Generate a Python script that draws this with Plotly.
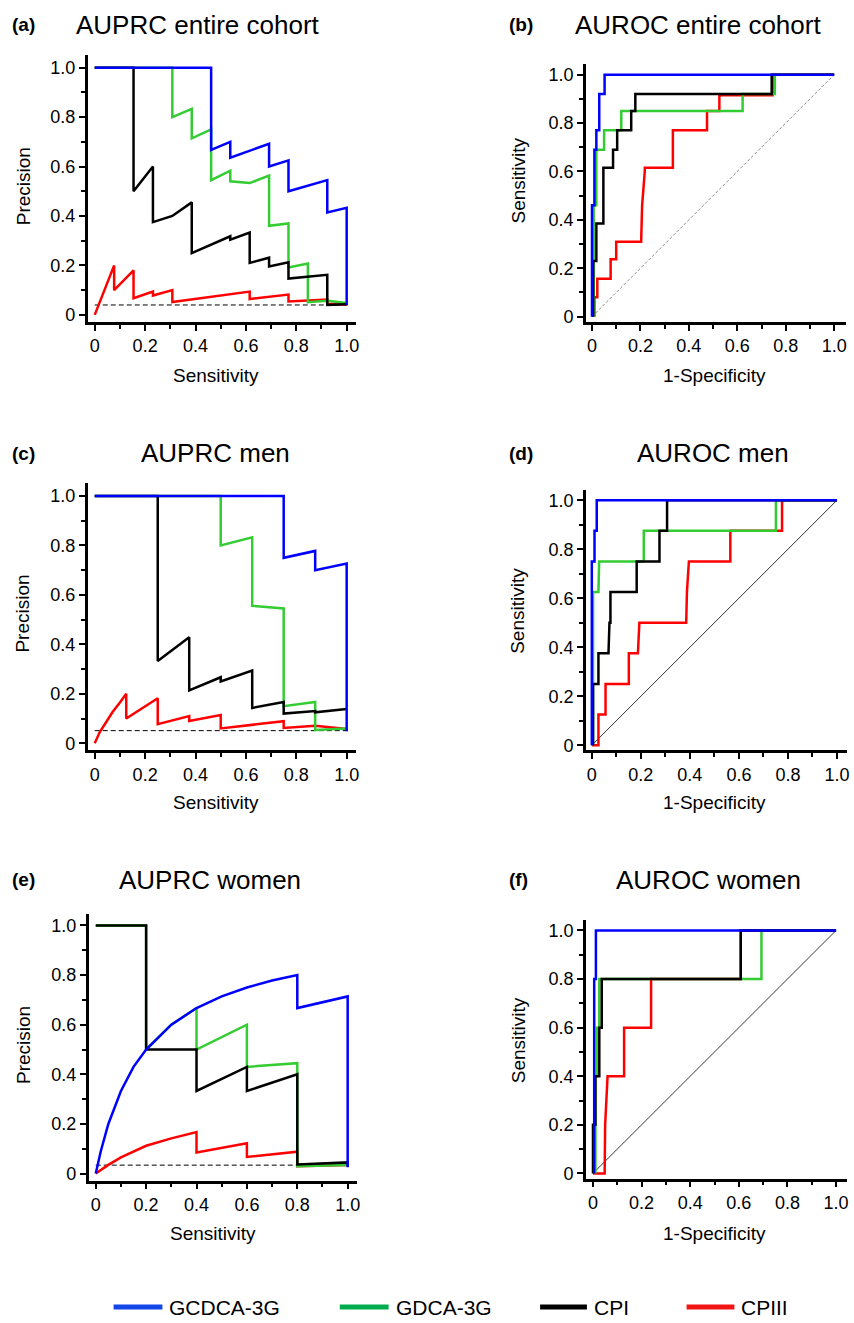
import plotly.graph_objects as go

W, H = 854, 1323
FONT = "Arial, 'Liberation Sans', sans-serif"

# ------------------------------------------------------------------ data
series_names = ["GCDCA-3G", "GDCA-3G", "CPI", "CPIII"]
line_colors = ["#0000FF", "#33CC33", "#000000", "#FF0000"]
legend_colors = ["#1246E8", "#00AD4E", "#000000", "#F01414"]
tick_values = [0, 0.2, 0.4, 0.6, 0.8, 1.0]
tick_labels = ["0", "0.2", "0.4", "0.6", "0.8", "1.0"]
minor_values = [0.1, 0.3, 0.5, 0.7, 0.9]

panel_letters = ["(a)", "(b)", "(c)", "(d)", "(e)", "(f)"]
panel_titles = ["AUPRC entire cohort", "AUROC entire cohort", "AUPRC men",
                "AUROC men", "AUPRC women", "AUROC women"]

# (a) precision-recall, entire cohort
prc_all_gcdca_x = [0, 0.462, 0.462, 0.538, 0.538, 0.692, 0.692, 0.769, 0.769, 0.923, 0.923, 1.0, 1.0]
prc_all_gcdca_y = [1.0, 1.0, 0.667, 0.70, 0.636, 0.692, 0.60, 0.625, 0.50, 0.545, 0.414, 0.433, 0.04]
prc_all_gdca_x = [0, 0.308, 0.308, 0.385, 0.385, 0.462, 0.462, 0.538, 0.538, 0.615, 0.692, 0.692, 0.769, 0.769, 0.846, 0.846, 0.923, 1.0]
prc_all_gdca_y = [1.0, 1.0, 0.80, 0.833, 0.714, 0.75, 0.545, 0.583, 0.54, 0.533, 0.563, 0.36, 0.37, 0.192, 0.208, 0.051, 0.057, 0.048]
prc_all_cpi_x = [0, 0.154, 0.154, 0.231, 0.231, 0.308, 0.385, 0.385, 0.538, 0.538, 0.615, 0.615, 0.692, 0.692, 0.769, 0.769, 0.923, 0.923, 1.0]
prc_all_cpi_y = [1.0, 1.0, 0.50, 0.60, 0.375, 0.40, 0.455, 0.25, 0.318, 0.304, 0.333, 0.21, 0.231, 0.196, 0.213, 0.147, 0.162, 0.04, 0.043]
prc_all_cpiii_x = [0, 0.077, 0.077, 0.154, 0.154, 0.231, 0.231, 0.308, 0.308, 0.615, 0.615, 0.769, 0.769, 0.923, 0.923, 1.0]
prc_all_cpiii_y = [0, 0.20, 0.10, 0.18, 0.067, 0.094, 0.078, 0.10, 0.052, 0.094, 0.064, 0.082, 0.054, 0.062, 0.045, 0.042]
prc_all_base_x = [0, 1.01]
prc_all_base_y = [0.04, 0.04]

# (b) ROC, entire cohort
roc_all_gcdca_x = [0, 0, 0.01, 0.01, 0.018, 0.018, 0.03, 0.03, 0.052, 0.052, 1.0]
roc_all_gcdca_y = [0, 0.46, 0.46, 0.69, 0.69, 0.77, 0.77, 0.92, 0.92, 1.0, 1.0]
roc_all_gdca_x = [0.007, 0.007, 0.018, 0.018, 0.05, 0.05, 0.121, 0.121, 0.622, 0.622, 0.755, 0.755, 1.0]
roc_all_gdca_y = [0, 0.46, 0.46, 0.69, 0.69, 0.77, 0.77, 0.85, 0.85, 0.92, 0.92, 1.0, 1.0]
roc_all_cpi_x = [0.005, 0.005, 0.018, 0.018, 0.047, 0.047, 0.087, 0.087, 0.104, 0.104, 0.162, 0.162, 0.179, 0.179, 0.742, 0.742, 1.0]
roc_all_cpi_y = [0, 0.23, 0.23, 0.385, 0.385, 0.615, 0.615, 0.69, 0.69, 0.77, 0.77, 0.85, 0.85, 0.92, 0.92, 1.0, 1.0]
roc_all_cpiii_x = [0.01, 0.01, 0.022, 0.022, 0.077, 0.077, 0.1, 0.1, 0.203, 0.207, 0.218, 0.218, 0.334, 0.334, 0.475, 0.475, 0.526, 0.526, 0.746, 0.746, 1.0]
roc_all_cpiii_y = [0, 0.08, 0.08, 0.157, 0.157, 0.237, 0.237, 0.31, 0.31, 0.46, 0.6, 0.615, 0.615, 0.77, 0.77, 0.85, 0.85, 0.915, 0.915, 1.0, 1.0]

# (c) precision-recall, men
prc_men_gcdca_x = [0, 0.75, 0.75, 0.875, 0.875, 1.0, 1.0]
prc_men_gcdca_y = [1.0, 1.0, 0.75, 0.778, 0.70, 0.727, 0.048]
prc_men_gdca_x = [0, 0.5, 0.5, 0.625, 0.625, 0.75, 0.75, 0.875, 0.875, 1.0]
prc_men_gdca_y = [1.0, 1.0, 0.80, 0.833, 0.556, 0.545, 0.15, 0.167, 0.054, 0.06]
prc_men_cpi_x = [0, 0.25, 0.25, 0.375, 0.375, 0.5, 0.5, 0.625, 0.625, 0.75, 0.75, 0.875, 0.875, 1.0]
prc_men_cpi_y = [1.0, 1.0, 0.333, 0.429, 0.214, 0.267, 0.25, 0.294, 0.143, 0.167, 0.12, 0.13, 0.125, 0.138]
prc_men_cpiii_x = [0, 0.02, 0.045, 0.07, 0.1, 0.125, 0.125, 0.25, 0.25, 0.375, 0.375, 0.5, 0.5, 0.75, 0.75, 0.875, 1.0]
prc_men_cpiii_y = [0, 0.045, 0.085, 0.125, 0.165, 0.20, 0.10, 0.182, 0.077, 0.11, 0.09, 0.114, 0.06, 0.089, 0.062, 0.071, 0.058]
prc_men_base_x = [0, 1.01]
prc_men_base_y = [0.051, 0.051]

# (d) ROC, men
roc_men_gcdca_x = [0, 0, 0.011, 0.011, 0.02, 0.02, 1.0]
roc_men_gcdca_y = [0, 0.75, 0.75, 0.875, 0.875, 1.0, 1.0]
roc_men_gdca_x = [0.005, 0.005, 0.027, 0.03, 0.212, 0.212, 0.751, 0.751, 1.0]
roc_men_gdca_y = [0, 0.625, 0.625, 0.75, 0.75, 0.875, 0.875, 1.0, 1.0]
roc_men_cpi_x = [0.005, 0.005, 0.027, 0.027, 0.068, 0.072, 0.076, 0.076, 0.183, 0.183, 0.276, 0.276, 0.307, 0.307, 1.0]
roc_men_cpi_y = [0, 0.25, 0.25, 0.375, 0.375, 0.5, 0.5, 0.625, 0.625, 0.75, 0.75, 0.875, 0.875, 1.0, 1.0]
roc_men_cpiii_x = [0, 0.027, 0.027, 0.056, 0.056, 0.151, 0.151, 0.188, 0.194, 0.385, 0.388, 0.396, 0.565, 0.565, 0.776, 0.776, 1.0]
roc_men_cpiii_y = [0, 0, 0.125, 0.125, 0.25, 0.25, 0.375, 0.375, 0.5, 0.5, 0.625, 0.75, 0.75, 0.875, 0.875, 1.0, 1.0]

# (e) precision-recall, women
prc_women_gcdca_x = [0, 0.02, 0.05, 0.1, 0.15, 0.2, 0.3, 0.4, 0.5, 0.6, 0.7, 0.8, 0.8, 1.0, 1.0]
prc_women_gcdca_y = [0, 0.09, 0.2, 0.333, 0.43, 0.5, 0.6, 0.667, 0.714, 0.75, 0.778, 0.8, 0.667, 0.714, 0.025]
prc_women_gdca_x = [0, 0.2, 0.2, 0.3, 0.4, 0.4, 0.6, 0.6, 0.8, 0.8, 1.0]
prc_women_gdca_y = [1.0, 1.0, 0.5, 0.6, 0.667, 0.5, 0.6, 0.43, 0.445, 0.03, 0.035]
prc_women_cpi_x = [0, 0.2, 0.2, 0.4, 0.4, 0.6, 0.6, 0.8, 0.8, 1.0, 1.0]
prc_women_cpi_y = [1.0, 1.0, 0.5, 0.5, 0.333, 0.43, 0.333, 0.4, 0.037, 0.045, 0.03]
prc_women_cpiii_x = [0, 0.05, 0.1, 0.2, 0.3, 0.4, 0.4, 0.6, 0.6, 0.8, 0.8, 1.0]
prc_women_cpiii_y = [0, 0.035, 0.065, 0.112, 0.142, 0.167, 0.085, 0.122, 0.067, 0.088, 0.03, 0.035]
prc_women_base_x = [0, 1.0]
prc_women_base_y = [0.034, 0.034]

# (f) ROC, women
roc_women_gcdca_x = [0.005, 0.005, 0.012, 0.012, 1.0]
roc_women_gcdca_y = [0, 0.8, 0.8, 1.0, 1.0]
roc_women_gdca_x = [0.01, 0.01, 0.016, 0.016, 0.026, 0.026, 0.693, 0.693, 1.0]
roc_women_gdca_y = [0, 0.4, 0.4, 0.6, 0.6, 0.8, 0.8, 1.0, 1.0]
roc_women_cpi_x = [0, 0, 0.01, 0.01, 0.026, 0.026, 0.036, 0.036, 0.608, 0.608, 1.0]
roc_women_cpi_y = [0, 0.2, 0.2, 0.4, 0.4, 0.6, 0.6, 0.8, 0.8, 1.0, 1.0]
roc_women_cpiii_x = [0, 0.048, 0.05, 0.06, 0.128, 0.128, 0.239, 0.239, 0.608, 0.608, 1.0]
roc_women_cpiii_y = [0, 0, 0.2, 0.4, 0.4, 0.6, 0.6, 0.8, 0.8, 1.0, 1.0]

chance_x = [0, 1.0]
chance_y = [0, 1.0]

# ------------------------------------------------------------------ layout geometry (pixels)
geom = [
    dict(xd=(88, 357), yd=(55, 323), xr=(-0.028, 1.036), yr=(-0.028, 1.052)),
    dict(xd=(588, 849), yd=(64, 323), xr=(-0.025, 1.049), yr=(-0.021, 1.045)),
    dict(xd=(88, 357), yd=(485, 753), xr=(-0.028, 1.036), yr=(-0.028, 1.052)),
    dict(xd=(588, 850), yd=(492, 753), xr=(-0.024, 1.041), yr=(-0.020, 1.041)),
    dict(xd=(89, 358), yd=(917, 1185), xr=(-0.028, 1.036), yr=(-0.028, 1.048)),
    dict(xd=(588, 850), yd=(923, 1183), xr=(-0.029, 1.045), yr=(-0.021, 1.045)),
]

panel_series = [
    [(prc_all_cpiii_x, prc_all_cpiii_y), (prc_all_gdca_x, prc_all_gdca_y),
     (prc_all_cpi_x, prc_all_cpi_y), (prc_all_gcdca_x, prc_all_gcdca_y)],
    [(roc_all_cpiii_x, roc_all_cpiii_y), (roc_all_gdca_x, roc_all_gdca_y),
     (roc_all_cpi_x, roc_all_cpi_y), (roc_all_gcdca_x, roc_all_gcdca_y)],
    [(prc_men_cpiii_x, prc_men_cpiii_y), (prc_men_gdca_x, prc_men_gdca_y),
     (prc_men_cpi_x, prc_men_cpi_y), (prc_men_gcdca_x, prc_men_gcdca_y)],
    [(roc_men_cpiii_x, roc_men_cpiii_y), (roc_men_gdca_x, roc_men_gdca_y),
     (roc_men_cpi_x, roc_men_cpi_y), (roc_men_gcdca_x, roc_men_gcdca_y)],
    [(prc_women_cpiii_x, prc_women_cpiii_y), (prc_women_gdca_x, prc_women_gdca_y),
     (prc_women_cpi_x, prc_women_cpi_y), (prc_women_gcdca_x, prc_women_gcdca_y)],
    [(roc_women_cpiii_x, roc_women_cpiii_y), (roc_women_gdca_x, roc_women_gdca_y),
     (roc_women_cpi_x, roc_women_cpi_y), (roc_women_gcdca_x, roc_women_gcdca_y)],
]
draw_order = [3, 1, 2, 0]  # CPIII, GDCA, CPI, GCDCA (GCDCA on top)

reference_lines = [
    (prc_all_base_x, prc_all_base_y, dict(color="black", width=1, dash="5px,3px")),
    (chance_x, chance_y, dict(color="#8C8C8C", width=1, dash="3px,2px")),
    (prc_men_base_x, prc_men_base_y, dict(color="black", width=1, dash="5px,3px")),
    (chance_x, chance_y, dict(color="black", width=0.8)),
    (prc_women_base_x, prc_women_base_y, dict(color="black", width=1, dash="5px,3px")),
    (chance_x, chance_y, dict(color="black", width=0.8)),
]


def px_x(v):
    return v / W


def px_y(v):
    return 1 - v / H


fig = go.Figure()

for i in range(6):
    xa = "x" if i == 0 else f"x{i + 1}"
    ya = "y" if i == 0 else f"y{i + 1}"
    rx, ry, rstyle = reference_lines[i]
    fig.add_trace(go.Scatter(x=rx, y=ry, mode="lines", line=rstyle,
                             xaxis=xa, yaxis=ya, showlegend=False, hoverinfo="skip"))
    for k, (sx, sy) in enumerate(panel_series[i]):
        s_idx = draw_order[k]
        fig.add_trace(go.Scatter(x=sx, y=sy, mode="lines", name=series_names[s_idx],
                                 line=dict(color=line_colors[s_idx], width=2.5),
                                 xaxis=xa, yaxis=ya, showlegend=False))

layout = dict(
    width=W, height=H,
    margin=dict(l=0, r=0, t=0, b=0),
    paper_bgcolor="white", plot_bgcolor="white",
    showlegend=False,
    font=dict(family=FONT, color="black"),
)


def make_axis(dom, rng, anchor):
    return dict(
        domain=dom, range=list(rng), anchor=anchor,
        showline=True, linecolor="black", linewidth=2.5,
        ticks="outside", ticklen=6, tickwidth=1.5, tickcolor="black",
        tickmode="array", tickvals=tick_values, ticktext=tick_labels,
        minor=dict(tickmode="array", tickvals=minor_values, ticks="outside",
                   ticklen=4, tickwidth=1.5, tickcolor="black", showgrid=False),
        showgrid=False, zeroline=False, fixedrange=True,
        tickfont=dict(family=FONT, size=18, color="black"),
    )


for i, g in enumerate(geom):
    xkey = "xaxis" if i == 0 else f"xaxis{i + 1}"
    ykey = "yaxis" if i == 0 else f"yaxis{i + 1}"
    xa = "x" if i == 0 else f"x{i + 1}"
    ya = "y" if i == 0 else f"y{i + 1}"
    xd = [px_x(g["xd"][0]), px_x(g["xd"][1])]
    yd = [px_y(g["yd"][1]), px_y(g["yd"][0])]
    layout[xkey] = make_axis(xd, g["xr"], ya)
    layout[ykey] = make_axis(yd, g["yr"], xa)

annotations = []
title_pos = [(10, 199, 25), (509, 700, 25), (10, 216, 455),
             (509, 716, 455), (10, 211, 883), (509, 711, 883)]
for i, (lx, tx, ty) in enumerate(title_pos):
    annotations.append(dict(x=px_x(lx), y=px_y(ty), xref="paper", yref="paper",
                            text=f"<b>{panel_letters[i]}</b>", showarrow=False,
                            xanchor="left", yanchor="middle",
                            font=dict(family=FONT, size=19, color="black")))
    annotations.append(dict(x=px_x(tx), y=px_y(ty), xref="paper", yref="paper",
                            text=panel_titles[i], showarrow=False,
                            xanchor="center", yanchor="middle",
                            font=dict(family=FONT, size=26, color="black")))

axis_titles = [
    ("Precision", 23, 187, -90), ("Sensitivity", 217, 377, 0),
    ("Sensitivity", 520, 181, -90), ("1-Specificity", 717, 377, 0),
    ("Precision", 23, 616, -90), ("Sensitivity", 217, 806, 0),
    ("Sensitivity", 520, 613, -90), ("1-Specificity", 717, 806, 0),
    ("Precision", 23, 1049, -90), ("Sensitivity", 214, 1238, 0),
    ("Sensitivity", 520, 1044, -90), ("1-Specificity", 717, 1238, 0),
]
for txt, x, y, ang in axis_titles:
    annotations.append(dict(x=px_x(x), y=px_y(y), xref="paper", yref="paper",
                            text=txt, showarrow=False, textangle=ang,
                            xanchor="center", yanchor="middle",
                            font=dict(family=FONT, size=19, color="black")))

# legend (drawn at the bottom)
legend_line_x = [(114, 163), (341, 390), (542, 589), (689, 737)]
legend_y = 1312
shapes = []
for k, name in enumerate(series_names):
    x0, x1 = legend_line_x[k]
    shapes.append(dict(type="line", xref="paper", yref="paper",
                       x0=px_x(x0), x1=px_x(x1), y0=px_y(legend_y), y1=px_y(legend_y),
                       line=dict(color=legend_colors[k], width=5)))
    annotations.append(dict(x=px_x(x1 + 5), y=px_y(legend_y), xref="paper", yref="paper",
                            text=name, showarrow=False, xanchor="left", yanchor="middle",
                            font=dict(family=FONT, size=21, color="black")))

layout["annotations"] = annotations
layout["shapes"] = shapes
fig.update_layout(**layout)

fig.write_html("out.html", config={"displayModeBar": False},
               post_script="document.body.style.margin='0px';")
